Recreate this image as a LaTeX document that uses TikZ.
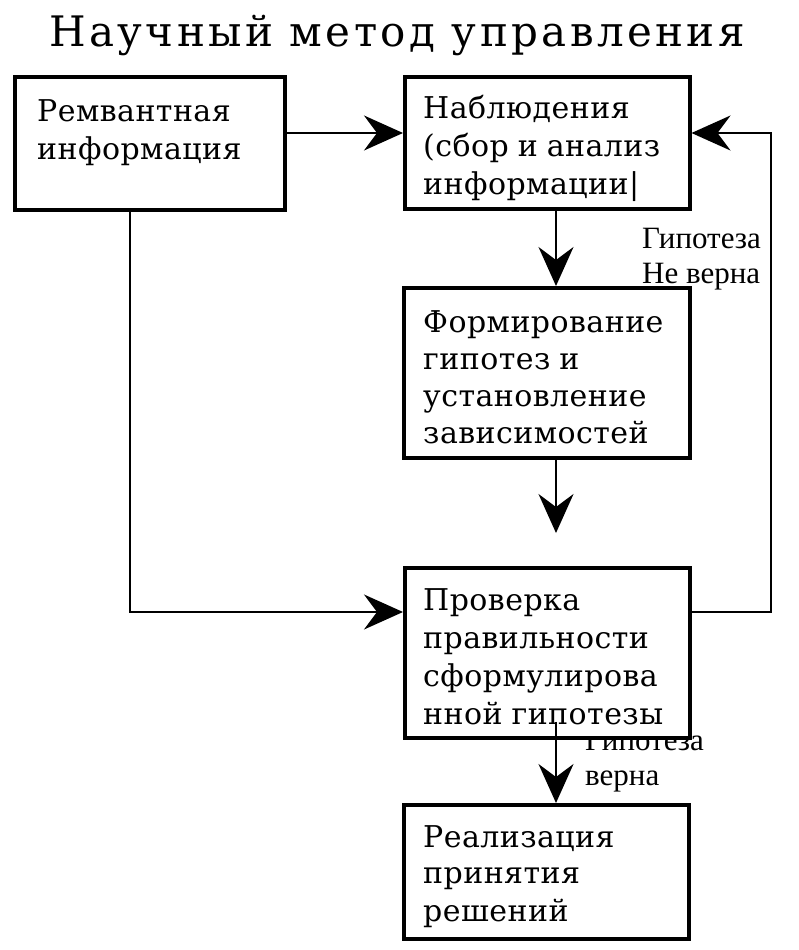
\documentclass[tikz,border=0pt]{standalone}
\usepackage{fontspec}
\setmainfont{Liberation Serif}
\newfontfamily\titlef[LetterSpace=8]{DejaVu Serif}
\newfontfamily\bodyf[WordSpace=0.9,LetterSpace=1.5]{DejaVu Serif}
\usetikzlibrary{arrows.meta,calc}
\newcommand\mytitlefont{\titlef\fontsize{42}{48}\selectfont}
\newcommand\mybodyfont{\bodyf\fontsize{30}{38}\selectfont}
\newcommand\mylblfont{\rmfamily\fontsize{31}{36}\selectfont}
\begin{document}
\begin{tikzpicture}[x=1pt,y=-1pt,
  box/.style={draw, line width=3.5pt, fill=white, inner sep=0pt, anchor=north west},
  txt/.style={font=\mybodyfont, inner sep=0pt, anchor=base west},
  lbl/.style={font=\mylblfont, inner sep=0pt, anchor=base west},
  conn/.style={line width=2pt, -{Stealth[length=39pt, width=35pt, inset=13pt]}}]
\useasboundingbox (0,0) rectangle (798,950);
\fill[white] (0,0) rectangle (798,950);
% title
\node[font=\mytitlefont, inner sep=0pt, anchor=base] (title) at (397,47) {Научный метод управления};
% labels (drawn under the boxes)
\node[lbl] (l1) at (642,248) {\begin{tabular}[t]{@{}l@{}}Гипотеза\\[-1pt]Не верна\end{tabular}};
\node[lbl] (l2) at (585,750) {\begin{tabular}[t]{@{}l@{}}Гипотеза\\[-1pt]верна\end{tabular}};
% boxes
\node[box, minimum width=270pt, minimum height=133pt] (A) at (13,75) {};
\node[box, minimum width=285pt, minimum height=132pt] (B) at (403,75) {};
\node[box, minimum width=286pt, minimum height=170pt] (C) at (402,286) {};
\node[box, minimum width=285pt, minimum height=170pt] (D) at (403,566) {};
\node[box, minimum width=285pt, minimum height=134pt] (E) at (402,803) {};
% texts
\node[txt] (tA) at (37,121) {\begin{tabular}[t]{@{}l@{}}Ремвантная\\информация\end{tabular}};
\node[txt] (tB) at (423,118) {\begin{tabular}[t]{@{}l@{}}Наблюдения\\(сбор и анализ\\информации|\end{tabular}};
\node[txt] (tC) at (423,332) {\begin{tabular}[t]{@{}l@{}}Формирование\\[-1pt]гипотез и\\[-1pt]установление\\[-1pt]зависимостей\end{tabular}};
\node[txt] (tD) at (423,610) {\begin{tabular}[t]{@{}l@{}}Проверка\\правильности\\сформулирова\\нной гипотезы\end{tabular}};
\node[txt] (tE) at (423,847) {\begin{tabular}[t]{@{}l@{}}Реализация\\[-2pt]принятия\\решений\end{tabular}};
% connectors
\coordinate (cdEnd) at ($(D.north west)+(153,-33)$);
\draw[conn] ($(A.north east)+(0,58)$) -- ($(B.north west)+(0,58)$);
\draw[conn] ($(B.south west)+(153,0)$) -- ($(C.north west)+(154,0)$);
\draw[conn] ($(C.south west)+(154,0)$) -- (cdEnd);
\draw[conn] ($(D.south west)+(153,-18)$) -- ($(E.north west)+(154,0)$);
\draw[conn] ($(A.south west)+(117,0)$) |- ($(D.north west)+(0,46)$);
\draw[conn] ($(D.north east)+(0,46)$) -| ($(B.north east)+(79,58)$) -- ($(B.north east)+(0,58)$);
\end{tikzpicture}
\end{document}
